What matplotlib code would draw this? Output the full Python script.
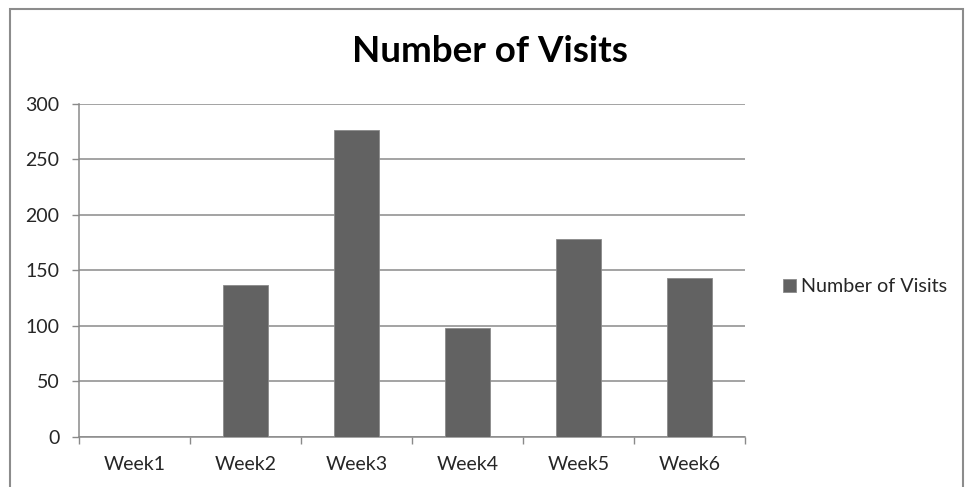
import matplotlib.pyplot as plt
from matplotlib.patches import Rectangle
import numpy as np

weeks = ["Week1", "Week2", "Week3", "Week4", "Week5", "Week6"]
visits = [0, 137, 277, 98, 178, 143]
y_ticks = [0, 50, 100, 150, 200, 250, 300]

plt.rcParams['font.family'] = ['Lato', 'DejaVu Sans']

fig = plt.figure(figsize=(9.65, 4.87), dpi=100)
ax = fig.add_axes([79 / 965, 50.3 / 487, 666 / 965, 332.7 / 487])

# outer chart frame
fig.patches.append(Rectangle((10 / 965, -0.01), 953 / 965, (487 - 9) / 487 + 0.01,
                             transform=fig.transFigure, fill=False,
                             edgecolor="#8c8c8c", linewidth=1.5))

x = np.arange(len(weeks))
ax.bar(x, visits, width=0.4, color="#626262", edgecolor="#8a8a8a",
       linewidth=0.6, label="Number of Visits", zorder=3)

ax.set_xlim(-0.5, len(weeks) - 0.5)
ax.set_ylim(0, 300)
ax.set_yticks(y_ticks)
ax.yaxis.grid(True, color="#8a8a8a", linewidth=1.1)
ax.set_axisbelow(True)

ax.set_xticks(x)
ax.set_xticklabels(weeks)
ax.set_xticks(np.arange(len(weeks) + 1) - 0.5, minor=True)
ax.tick_params(axis="x", which="major", length=0, pad=14, labelsize=14, labelcolor="#262626")
ax.tick_params(axis="x", which="minor", length=5, color="#8a8a8a", width=1)
ax.tick_params(axis="y", length=5, color="#8a8a8a", width=1, pad=9,
               labelsize=14, labelcolor="#262626")

for side in ["top", "right"]:
    ax.spines[side].set_visible(False)
for side in ["left", "bottom"]:
    ax.spines[side].set_color("#8a8a8a")
    ax.spines[side].set_linewidth(1.1)

fig.text(0.508, 1 - 52 / 487, "Number of Visits", ha="center", va="center",
         fontsize=26.5, fontweight="bold", color="#000000")

leg = fig.legend(loc="center left", bbox_to_anchor=(765 / 965, 1 - 287 / 487),
                 frameon=False, fontsize=14.2, handlelength=0.65,
                 handleheight=0.65, handletextpad=0.3)
for t in leg.get_texts():
    t.set_color("#262626")

fig.savefig("out.png", dpi=100, facecolor="white")
